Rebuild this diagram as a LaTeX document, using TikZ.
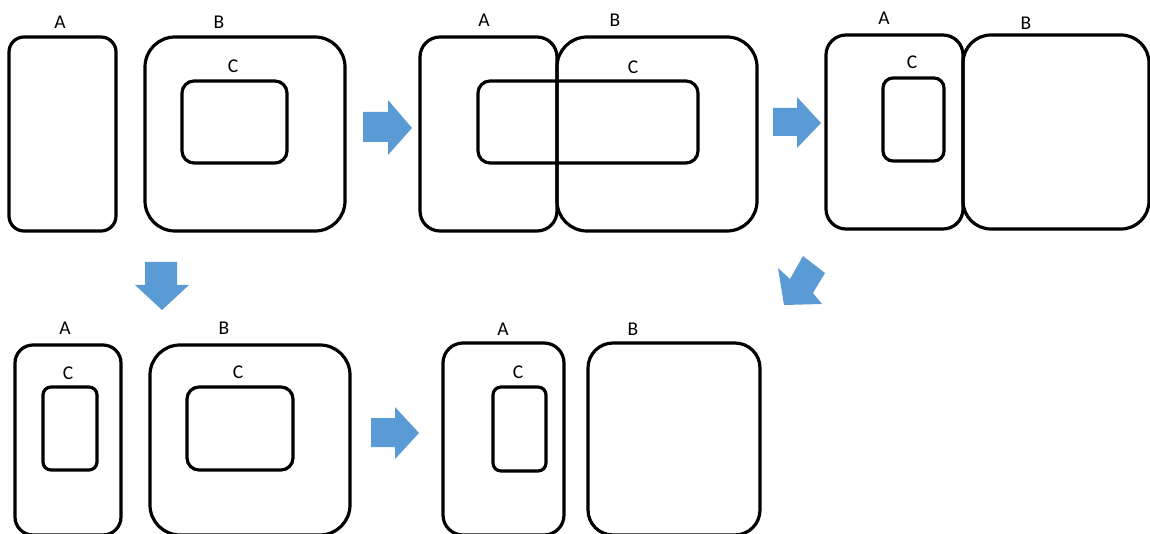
\documentclass[tikz,border=0pt]{standalone}
\usepackage{fontspec}
\setmainfont{Carlito}
\begin{document}
\begin{tikzpicture}[x=1pt, y=-1pt,
  region/.style={draw=black, line width=3.2pt, inner sep=0pt, outer sep=0pt},
  tag/.style={inner sep=0pt, font=\fontsize{19.5}{22}\selectfont},
  blockarrow/.style={fill=arrowblue, draw=none}]
\definecolor{arrowblue}{HTML}{5B9BD5}
\useasboundingbox (0,0) rectangle (1150,534);
\clip (0,0) rectangle (1150,534);

% a box from its two corners
\newcommand{\regionbox}[6]{%
  \node[region, rounded corners=#6, minimum width={(#4-#2)*1pt}, minimum height={(#5-#3)*1pt}]
    (#1) at ({(#2+#4)/2},{(#3+#5)/2}) {};}

% stage 1: A apart from B, C inside B
\regionbox{A1}{9}{37}{116}{231}{15}
\regionbox{B1}{145}{37}{345}{231}{30}
\regionbox{C1}{182}{81}{287}{163}{12}
\node[tag] (lA1) at (60,22) {A};
\node[tag] (lB1) at (219,22) {B};
\node[tag] (lC1) at (233,66) {C};

% stage 2: A and B touching, C across both
\regionbox{A2}{420}{37}{557}{231}{20}
\regionbox{B2}{557}{37}{757}{231}{30}
\regionbox{C2}{478}{81}{698}{163}{12}
\node[tag] (lA2) at (484,20) {A};
\node[tag] (lB2) at (615,20) {B};
\node[tag] (lC2) at (633,67) {C};

% stage 3: C inside A
\regionbox{A3}{826}{35}{963}{229}{20}
\regionbox{B3}{963}{35}{1149}{229}{28}
\regionbox{C3}{883}{78}{944}{161}{10}
\node[tag] (lA3) at (884,18) {A};
\node[tag] (lB3) at (1026,23) {B};
\node[tag] (lC3) at (912,62) {C};

% stage 4: C in both A and B
\regionbox{A4}{15}{345}{121}{535}{18}
\regionbox{C4a}{43}{387}{97}{470}{8}
\regionbox{B4}{150}{345}{350}{535}{30}
\regionbox{C4b}{187}{387}{293}{470}{12}
\node[tag] (lA4) at (65,328) {A};
\node[tag] (lC4a) at (68,373) {C};
\node[tag] (lB4) at (224,328) {B};
\node[tag] (lC4b) at (238,372) {C};

% stage 5: C only in A
\regionbox{A5}{443}{343}{564}{535}{20}
\regionbox{C5}{493}{387}{546}{471}{8}
\regionbox{B5}{588}{343}{760}{535}{25}
\node[tag] (lA5) at (503,329) {A};
\node[tag] (lC5) at (518,372) {C};
\node[tag] (lB5) at (633,329) {B};

% block arrows between stages
\fill[blockarrow] (363,112) -- (388,112) -- (388,100) -- (412,128) -- (388,155) -- (388,142) -- (363,142) -- cycle;
\fill[blockarrow] (773,108) -- (797,108) -- (797,97) -- (821,123) -- (797,148) -- (797,136) -- (773,136) -- cycle;
\fill[blockarrow] (145,262) -- (177,262) -- (177,285) -- (189,285) -- (162,310) -- (135,285) -- (145,285) -- cycle;
\fill[blockarrow] (371,418) -- (395,418) -- (395,407) -- (419,433) -- (395,459) -- (395,447) -- (371,447) -- cycle;
\fill[blockarrow] (803,256) -- (825,273) -- (813,293) -- (822,304) -- (784,305) -- (778,268) -- (790,279) -- cycle;
\end{tikzpicture}
\end{document}
